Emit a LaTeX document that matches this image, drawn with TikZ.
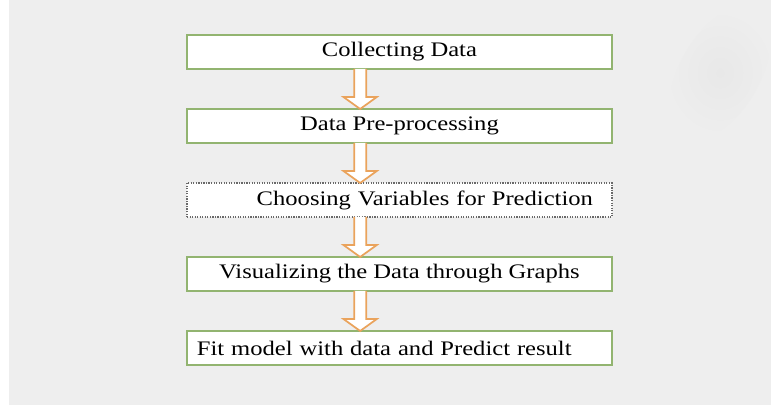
\documentclass[tikz,border=0pt]{standalone}
\usepackage{fontspec}
\setmainfont[FakeStretch=1.19]{Liberation Serif}
\usetikzlibrary{positioning, calc}
\definecolor{boxgreen}{RGB}{146,180,112}
\definecolor{boxdotted}{RGB}{105,105,105}
\definecolor{arroworange}{RGB}{234,163,92}
\definecolor{bggrey}{RGB}{238,238,238}
\tikzset{
    stepbox/.style={draw=boxgreen, line width=0.9pt, fill=white, minimum width=318.75pt,
        minimum height=25.5pt, outer sep=0pt, inner sep=0pt, font=\fontsize{15.5}{18}\selectfont},
    flowarrow/.style={draw=arroworange, line width=1.3pt, fill=white, line join=miter}
}

\begin{document}
\begin{tikzpicture}
% === background ===
\useasboundingbox (0,0) rectangle (578.25pt,304.5pt);
\fill[white] (0,0) rectangle (578.25pt,304.5pt);
\fill[bggrey] (6.75pt,0.75pt) rectangle (578.25pt,304.5pt);
\shade[inner color=black!9, outer color=bggrey, shift={(540pt,250pt)}, rotate=-30]
    (0,0) ellipse (30pt and 55pt);
% === steps ===
\node[stepbox] (collect) at (299.6pt,265.5pt) {Collecting Data};
\node[stepbox, below=30pt of collect] (prep) {Data Pre-processing};
\node[stepbox, below=30pt of prep, draw=boxdotted, densely dotted, line width=0.8pt,
    text width=290.25pt, align=right] (choose) {Choosing Variables for Prediction};
\node[stepbox, below=30pt of choose] (visual) {Visualizing the Data through Graphs};
\node[stepbox, below=30pt of visual, text width=303.75pt, align=left] (fit)
    {Fit model with data and Predict result};
% === hollow arrows between steps ===
\foreach \a/\b in {collect/prep, prep/choose, choose/visual, visual/fit}
    \draw[flowarrow] let \p1=($(\a.south)+(-29.5pt,0)$), \p2=($(\b.north)+(-29.5pt,0)$) in
        (\x1-4.5pt,\y1) -- (\x1-4.5pt,\y2+9pt) -- (\x1-12.5pt,\y2+9pt) -- (\x2,\y2)
        -- (\x1+12.5pt,\y2+9pt) -- (\x1+4.5pt,\y2+9pt) -- (\x1+4.5pt,\y1);
\end{tikzpicture}
\end{document}
